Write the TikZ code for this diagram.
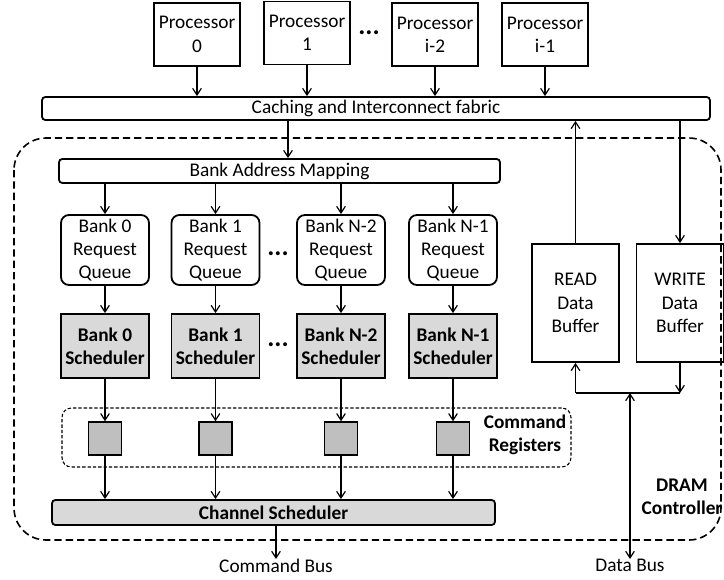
\documentclass[tikz,border=0pt]{standalone}
\usepackage{fontspec}
\setmainfont{Carlito}
\usetikzlibrary{arrows.meta,calc}
\begin{document}
\begin{tikzpicture}[x=0.75pt,y=-0.75pt,
  font=\fontsize{14.5}{17.5}\selectfont,
  box/.style={draw,line width=1.35pt,align=center,inner sep=1pt},
  proc/.style={box,minimum width=64.5pt,minimum height=47.25pt},
  queue/.style={box,inner sep=0pt,rounded corners=6pt,minimum width=66pt,minimum height=52.5pt},
  sched/.style={box,fill=gray!30,font=\fontsize{14.5}{17}\selectfont\bfseries,minimum width=66pt,minimum height=48pt},
  reg/.style={draw,line width=1.1pt,fill=gray!50,minimum size=24.75pt,inner sep=0pt},
  buffer/.style={box,minimum width=65.25pt,minimum height=88.5pt},
  bar/.style={box,rounded corners=2.5pt},
  dots/.style={font=\fontsize{20}{20}\selectfont\bfseries,inner sep=0pt},
  lbl/.style={align=center,inner sep=0pt},
  arr/.style={line width=0.9pt,-{Straight Barb[length=5pt,width=6.5pt,line width=0.9pt]}},
  darr/.style={line width=0.9pt,{Straight Barb[length=5pt,width=6.5pt,line width=0.9pt]}-{Straight Barb[length=5pt,width=6.5pt,line width=0.9pt]}},
  wire/.style={line width=0.9pt}
]
\useasboundingbox (0,0) rectangle (724,579);

% DRAM controller boundary
\draw[line width=1.2pt,dash pattern=on 5.5pt off 3pt,rounded corners=24pt] (14,138) rectangle (721,540);
\node[lbl,font=\fontsize{14.5}{17}\selectfont\bfseries] (dram) at (682,497) {DRAM\\Controller};

% processors
\node[proc] (p0) at (197,34.5) {Processor\\0};
\node[proc] (p1) at (307,33) {Processor\\1};
\node[dots] (pd) at (369,33) {...};
\node[proc] (p2) at (435,34.5) {Processor\\i-2};
\node[proc] (p3) at (545,34.5) {Processor\\i-1};

% caching and interconnect fabric
\node[bar,minimum width=501pt,minimum height=17.25pt] (fab) at (376,108.5) {Caching and Interconnect fabric};
\foreach \p in {p0,p1,p2,p3}
  \draw[arr] (\p.south) -- (\p.south |- fab.north);

% bank address mapping
\node[bar,minimum width=330.75pt,minimum height=18pt] (bam) at (279.5,171) {Bank Address Mapping};
\coordinate (fabout) at (288,0);
\draw[arr] (fab.south -| fabout) -- (bam.north -| fabout);

% per-bank queues, schedulers and command registers
\foreach \i/\x/\t in {0/105/Bank 0,1/215.5/Bank 1,2/341/Bank N-2,3/453/Bank N-1}{
  \node[queue] (q\i) at (\x,250) {\t\\Request\\Queue};
  \node[sched] (s\i) at (\x,346) {\t\\Scheduler};
  \node[reg] (r\i) at (\x,438.5) {};
  \draw[arr] (bam.south -| q\i) -- (q\i.north);
  \draw[arr] (q\i) -- (s\i);
  \draw[arr] (s\i) -- (r\i);
}
\node[dots] (qd) at (278,254) {...};
\node[dots] (sd) at (278,345) {...};

% command register group
\node[draw,line width=0.8pt,dash pattern=on 2.5pt off 1.5pt,rounded corners=7pt,minimum width=381.75pt,minimum height=44.25pt] (cmdreg) at (316.5,437.5) {};
\node[lbl,font=\fontsize{14.5}{17}\selectfont\bfseries] (cmdlbl) at (525,435) {Command\\Registers};

% channel scheduler
\node[bar,fill=gray!30,font=\fontsize{14.5}{17}\selectfont\bfseries,minimum width=332.25pt,minimum height=18.75pt] (chan) at (273.5,512.5) {Channel Scheduler};
\foreach \i in {0,1,2,3}
  \draw[arr] (r\i) -- (r\i |- chan.north);

\node[lbl,anchor=north] (cmdbus) at (276,559) {Command Bus};
\draw[arr] (chan.south -| cmdbus) -- (cmdbus.north);

% data buffers
\node[buffer] (rd) at (575.5,303) {READ\\Data\\Buffer};
\node[buffer] (wr) at (680,303) {WRITE\\Data\\Buffer};
\draw[arr] (rd.north) -- (rd.north |- fab.south);
\draw[arr] (fab.south -| wr.north) -- (wr.north);

\coordinate (bus) at (630,393);
\draw[arr] (bus -| rd.south) -- (rd.south);
\draw[wire] (bus -| rd.south) -- (bus -| wr.south);
\draw[arr] (wr.south) -- (bus -| wr.south);

\node[lbl,anchor=north] (databus) at (630,559) {Data Bus};
\draw[darr] (bus) -- (databus.north);
\end{tikzpicture}
\end{document}
